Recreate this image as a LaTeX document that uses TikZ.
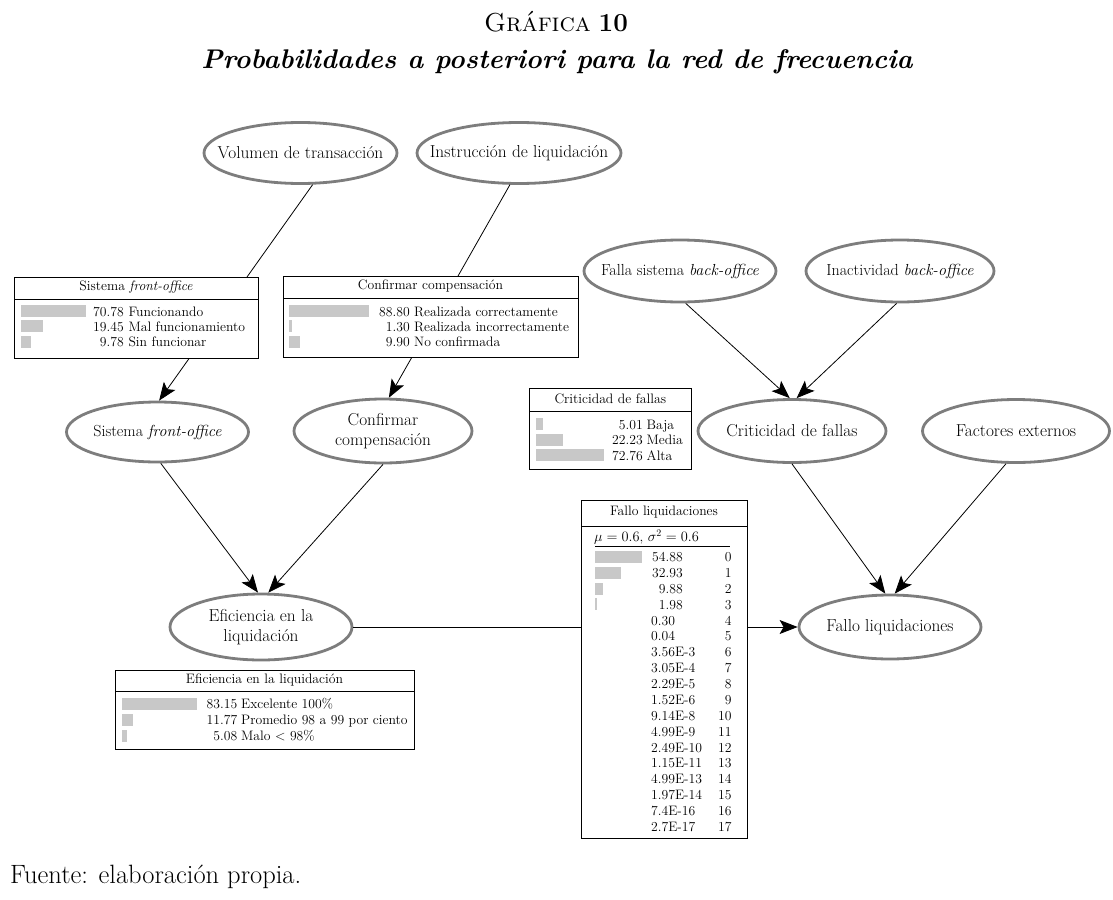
\documentclass[tikz,border=0pt]{standalone}
\usepackage{fontspec}
\usetikzlibrary{shapes.geometric,arrows.meta}
\definecolor{ellgray}{HTML}{7D7D7D}
\definecolor{bargray}{HTML}{C8C8C8}
\tikzset{
  bn/.style={ellipse, draw=ellgray, line width=2.8pt, inner sep=0pt, fill=white},
  bt/.style={font=\fontsize{17.3}{20}\selectfont, align=center, inner sep=0pt},
  bti/.style={font=\fontsize{16}{20}\selectfont, align=center, inner sep=0pt},
  arr/.style={-{Stealth[length=18pt,width=14pt,inset=4pt]}, line width=0.8pt},
  tbl/.style={draw, line width=0.8pt, fill=white, inner sep=0pt, anchor=north west},
  tt/.style={font=\fontsize{13.7}{16}\selectfont, inner sep=0pt},
  ne/.style={tt, anchor=base east},
  lw/.style={tt, anchor=base west},
}
\begin{document}
\begin{tikzpicture}[x=1pt,y=-1pt]
\useasboundingbox (0,0) rectangle (1113,899);

% title
\node[font=\fontsize{26}{30}\selectfont] (t1) at (556,22) {\textsc{Gráfica} \textbf{10}};
\node[font=\fontsize{27}{30}\selectfont\bfseries\itshape] (t2) at (557,62) {Probabilidades a posteriori para la red de frecuencia};
\node[font=\fontsize{26.5}{30}\selectfont, anchor=west, inner sep=0pt] (src) at (10,877) {Fuente: elaboración propia.};

% ellipses
\node[bn, minimum width=193pt, minimum height=61pt] (vol) at (300.5,153) {};
\node[bt] (volt) at (vol.center) {Volumen de transacción};
\node[bn, minimum width=204pt, minimum height=61pt] (ins) at (519,153) {};
\node[bt] (inst) at (ins.center) {Instrucción de liquidación};
\node[bn, minimum width=192pt, minimum height=62pt] (fal) at (680,271) {};
\node[bti] (falt) at (fal.center) {Falla sistema \textit{back-office}};
\node[bn, minimum width=188pt, minimum height=62pt] (ina) at (900,271) {};
\node[bti] (inat) at (ina.center) {Inactividad \textit{back-office}};
\node[bn, minimum width=182pt, minimum height=60pt] (sfo) at (157.5,432) {};
\node[bti] (sfot) at (sfo.center) {Sistema \textit{front-office}};
\node[bn, minimum width=178pt, minimum height=64pt] (conf) at (383,431) {};
\node[bt] (conft) at (conf.center) {Confirmar\\compensación};
\node[bn, minimum width=188pt, minimum height=63pt] (crit) at (792,431) {};
\node[bt] (critt) at (crit.center) {Criticidad de fallas};
\node[bn, minimum width=187pt, minimum height=63pt] (fact) at (1016,431) {};
\node[bt] (factt) at (fact.center) {Factores externos};
\node[bn, minimum width=182pt, minimum height=66pt] (efi) at (261,627) {};
\node[bt] (efit) at (efi.center) {Eficiencia en la\\liquidación};
\node[bn, minimum width=182pt, minimum height=64pt] (fallo) at (890,627) {};
\node[bt] (fallot) at (fallo.center) {Fallo liquidaciones};

% connectors
\draw[arr] (vol.-69) -- (sfo.87);
\draw[arr] (ins.-106) -- (conf.80);
\draw[arr] (fal.-80) -- (crit.94);
\draw[arr] (ina.-96) -- (crit.82);
\draw[arr] (sfo.-84) -- (efi.95);
\draw[arr] (conf.-90) -- (efi.78);
\draw[arr] (crit.-90) -- (fallo.98);
\draw[arr] (fact.-107) -- (fallo.82);
\draw[arr] (efi.east) -- (fallo.west);

% table: Sistema front-office
\node[tbl, minimum width=244pt, minimum height=81.6pt] (tfo) at (14,276.7) {};
\draw[line width=0.8pt] (14,299.3) -- (258,299.3);
\node[tt] (tfoh) at (136,287) {Sistema \textit{front-office}};
\fill[bargray] (21,304.5) rectangle (86,316.5);
\fill[bargray] (21,320) rectangle (42.7,332);
\fill[bargray] (21,335.5) rectangle (30.7,347.5);
\node[ne] at (124,316) {70.78}; \node[lw] at (128.3,316) {Funcionando};
\node[ne] at (124,331) {19.45}; \node[lw] at (128.3,331) {Mal funcionamiento};
\node[ne] at (124,346) {9.78};  \node[lw] at (128.3,346) {Sin funcionar};

% table: Confirmar compensacion
\node[tbl, minimum width=295pt, minimum height=81.6pt] (tcc) at (283,275.7) {};
\draw[line width=0.8pt] (283,298.3) -- (578,298.3);
\node[tt] (tcch) at (430.5,286) {Confirmar compensación};
\fill[bargray] (289.3,304.5) rectangle (369,316.5);
\fill[bargray] (289.3,320) rectangle (292,332);
\fill[bargray] (289.3,335.5) rectangle (300,347.5);
\node[ne] at (410,316) {88.80}; \node[lw] at (414,316) {Realizada correctamente};
\node[ne] at (410,331) {1.30};  \node[lw] at (414,331) {Realizada incorrectamente};
\node[ne] at (410,346) {9.90};  \node[lw] at (414,346) {No confirmada};

% table: Criticidad de fallas
\node[tbl, minimum width=162pt, minimum height=80.7pt] (tcr) at (529.3,388.3) {};
\draw[line width=0.8pt] (529.3,411.5) -- (691.3,411.5);
\node[tt] (tcrh) at (610.3,399) {Criticidad de fallas};
\fill[bargray] (536,418) rectangle (542.7,430);
\fill[bargray] (536,433.5) rectangle (563.3,445.5);
\fill[bargray] (536,449) rectangle (604.3,461);
\node[ne] at (643,429) {5.01};  \node[lw] at (646.5,429) {Baja};
\node[ne] at (643,444.5) {22.23}; \node[lw] at (646.5,444.5) {Media};
\node[ne] at (643,460) {72.76}; \node[lw] at (646.5,460) {Alta};

% table: Eficiencia en la liquidacion
\node[tbl, minimum width=299pt, minimum height=79pt] (tef) at (115,670) {};
\draw[line width=0.8pt] (115,691.7) -- (414,691.7);
\node[tt] (tefh) at (264.5,680) {Eficiencia en la liquidación};
\fill[bargray] (121.7,698) rectangle (196.7,710);
\fill[bargray] (121.7,714) rectangle (132.7,726);
\fill[bargray] (121.7,730) rectangle (127.3,742);
\node[ne] at (237.5,708.5) {83.15}; \node[lw] at (241,708.5) {Excelente 100\%};
\node[ne] at (237.5,724.5) {11.77}; \node[lw] at (241,724.5) {Promedio 98 a 99 por ciento};
\node[ne] at (237.5,740.5) {5.08};  \node[lw] at (241,740.5) {Malo < 98\%};

% table: Fallo liquidaciones
\node[tbl, minimum width=165.7pt, minimum height=338pt] (tfl) at (581,500) {};
\draw[line width=0.8pt] (581,526) -- (746.7,526);
\draw[line width=0.8pt] (595,546.5) -- (730,546.5);
\node[tt] (tflh) at (664,512) {Fallo liquidaciones};
\node[lw] (mu) at (594,541.5) {$\mu = 0.6$, $\sigma^2 = 0.6$};
\fill[bargray] (595,550.7) rectangle (641.7,562.7);
\fill[bargray] (595,566.6) rectangle (620.7,578.6);
\fill[bargray] (595,582.5) rectangle (602.7,594.5);
\fill[bargray] (595,598.4) rectangle (597.3,610.4);
\foreach \v [count=\i from 0] in {54.88,32.93,9.88,1.98}{
  \node[ne] at (683,561.5+15.88*\i) {\v};
}
\foreach \v [count=\i from 4] in {0.30,0.04,3.56E-3,3.05E-4,2.29E-5,1.52E-6,9.14E-8,4.99E-9,2.49E-10,1.15E-11,4.99E-13,1.97E-14,7.4E-16,2.7E-17}{
  \node[lw] at (651,561.5+15.88*\i) {\v};
}
\foreach \i in {0,...,17}{
  \node[ne] at (731.7,561.5+15.88*\i) {\i};
}
\end{tikzpicture}
\end{document}
